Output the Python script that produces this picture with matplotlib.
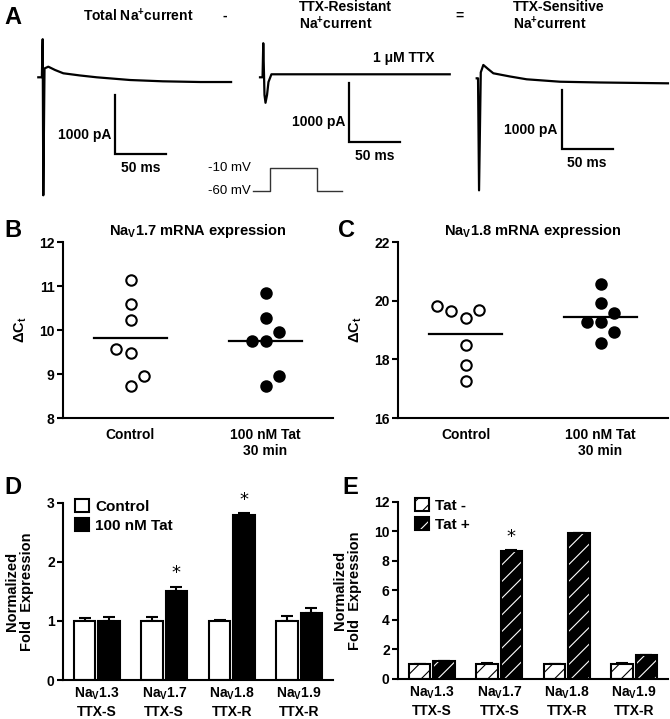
import numpy as np
import matplotlib
matplotlib.use("Agg")
import matplotlib.pyplot as plt
from matplotlib.patches import Patch
from matplotlib.legend_handler import HandlerTuple

plt.rcParams['font.family'] = ['Liberation Sans', 'DejaVu Sans']
plt.rcParams['font.weight'] = 'bold'
plt.rcParams['axes.labelweight'] = 'bold'
plt.rcParams['axes.titleweight'] = 'bold'
plt.rcParams['mathtext.fontset'] = 'custom'
plt.rcParams['mathtext.rm'] = 'Liberation Sans:bold'
plt.rcParams['mathtext.it'] = 'Liberation Sans:bold:italic'
plt.rcParams['mathtext.bf'] = 'Liberation Sans:bold'
plt.rcParams['axes.linewidth'] = 1.5
plt.rcParams['hatch.linewidth'] = 0.8

# ---- panel A: current traces (ms, pA relative to holding baseline)
total_t = [0, 3.5, 4.3, 4.9, 6.1, 9.8, 16.4, 24.5, 40.9, 57.3, 90, 122, 159, 189]
total_i = [0, 0, 646, -2000, 150, 180, 124, 68, 31, 0, -46, -68, -80, -80]
resist_t = [0, 2.5, 3.2, 4.4, 5.4, 6.9, 8.3, 11.2, 186]
resist_i = [0, 0, 578, -299, -432, -299, -80, 51, 51]
sens_t = [0, 1.3, 2.3, 4.0, 6.5, 11.1, 16.3, 32.6, 49, 81.7, 121, 187.5]
sens_i = [0, 0, -1899, 100, 226, 158, 85, 31, -17, -58, -71, -85]
# voltage protocol
protocol_t = [0, 17, 63, 87]
protocol_mv = [-60, -10, -60, -60]

# ---- panels B, C: delta Ct values
b_control = [11.14, 10.58, 10.23, 9.57, 9.47, 8.95, 8.73]
b_tat = [10.83, 10.27, 9.96, 9.76, 9.76, 8.95, 8.73]
c_control = [19.82, 19.66, 19.42, 19.68, 18.48, 17.82, 17.25]
c_tat = [20.56, 19.93, 19.57, 19.26, 19.26, 18.94, 18.56]
groups = ['Control', '100 nM Tat\n30 min']

# ---- panels D, E: normalized fold expression
channels = ['Na$_{\\mathrm{V}}$1.3\nTTX-S', 'Na$_{\\mathrm{V}}$1.7\nTTX-S',
            'Na$_{\\mathrm{V}}$1.8\nTTX-R', 'Na$_{\\mathrm{V}}$1.9\nTTX-R']
d_control = [1.0, 1.0, 1.0, 1.0]
d_control_err = [0.05, 0.06, 0.02, 0.08]
d_tat = [1.0, 1.5, 2.8, 1.14]
d_tat_err = [0.06, 0.08, 0.02, 0.08]
d_sig = [False, True, True, False]
e_minus = [1.0, 1.0, 1.0, 1.0]
e_minus_err = [0.03, 0.05, 0.03, 0.08]
e_plus = [1.2, 8.65, 9.85, 1.6]
e_plus_err = [0.05, 0.05, 0.05, 0.05]
e_sig = [False, True, False, False]

W, H = 670, 719
fig = plt.figure(figsize=(W / 100, H / 100), dpi=100)


def place_axes(left, top, right, bottom):
    return fig.add_axes([left / W, 1 - bottom / H, (right - left) / W, (bottom - top) / H])


def ftext(x, y, s, **kw):
    fig.text(x / W, 1 - y / H, s, **kw)


# ---------------- panel A
PX_MS = 1.02    # pixels per ms
PX_PA = 0.059   # pixels per pA


def trace_axes(box, origin):
    left, top, right, bottom = box
    ox, oy = origin
    ax = place_axes(left, top, right, bottom)
    ax.set_xlim((left - ox) / PX_MS, (right - ox) / PX_MS)
    ax.set_ylim((oy - bottom) / PX_PA, (oy - top) / PX_PA)
    ax.axis('off')
    return ax


def scale_bar(ax, t0, i0):
    ax.plot([t0, t0, t0 + 50], [i0 + 1000, i0, i0], color='black', lw=1.6,
            solid_joinstyle='miter', clip_on=False)
    ax.text(t0 - 4, i0 + 330, '1000 pA', ha='right', va='center', fontsize=10)
    ax.text(t0 + 25, i0 - 240, '50 ms', ha='center', va='center', fontsize=10)


traces = [(total_t, total_i, (30, 30, 240, 210), (38.3, 77.3), (75.2, -1300)),
          (resist_t, resist_i, (250, 30, 460, 210), (260, 77.3), (87.3, -1091)),
          (sens_t, sens_i, (465, 30, 670, 210), (476.7, 78.3), (83.3, -1203))]
trace_ax = []
for tt, ii, box, origin, bar in traces:
    ax = trace_axes(box, origin)
    ax.plot(tt, ii, color='black', lw=1.6, clip_on=False)
    scale_bar(ax, *bar)
    trace_ax.append(ax)
trace_ax[1].text(110.8, 322, '1 \u03bcM TTX', ha='left', va='center', fontsize=10)

axP = place_axes(240, 160, 350, 200)
axP.set_xlim((240 - 253) / PX_MS, (350 - 253) / PX_MS)
axP.set_ylim(-60 - (200 - 190.7) / 0.454, -60 + (190.7 - 160) / 0.454)
axP.axis('off')
axP.plot(protocol_t, protocol_mv, drawstyle='steps-post', color='#333333', lw=1.0)
for v in (-10, -60):
    axP.text(-2, v, '%d mV' % v, ha='right', va='center', fontsize=9.5,
             fontweight='normal')

ftext(4, 18, 'A', fontsize=17, va='center')
ftext(83, 16, 'Total Na$^{+}$current', fontsize=10, va='center')
ftext(225, 16, '-', fontsize=10, va='center', ha='center')
ftext(299, 7, 'TTX-Resistant', fontsize=10, va='center')
ftext(299, 24, 'Na$^{+}$current', fontsize=10, va='center')
ftext(459, 16, '=', fontsize=10, va='center', ha='center')
ftext(513, 7, 'TTX-Sensitive', fontsize=10, va='center')
ftext(513, 24, 'Na$^{+}$current', fontsize=10, va='center')

# ---------------- panels B, C
b_dx = ([0, 0, 0, -0.11, 0, 0.1, 0], [0, 0, 0.1, -0.1, 0, 0.1, 0])
c_dx = ([-0.21, -0.11, 0, 0.1, 0, 0, 0], [0, 0, 0.1, -0.1, 0, 0.1, 0])


def dot_panel(box, ctrl, tat, dxs, ylim, yticks, title):
    ax = place_axes(*box)
    for k, (vals, face) in enumerate([(ctrl, 'white'), (tat, 'black')]):
        ax.plot(k + np.array(dxs[k]), vals, 'o', mfc=face, mec='black', mew=1.5,
                ms=7.5, clip_on=False, zorder=3)
        m = np.mean(vals)
        ax.plot([k - 0.27, k + 0.27], [m, m], color='black', lw=1.6, zorder=2)
    ax.set_xlim(-0.5, 1.5)
    ax.set_ylim(*ylim)
    ax.set_yticks(yticks)
    ax.set_xticks([0, 1])
    ax.set_xticklabels(groups)
    ax.spines['top'].set_visible(False)
    ax.spines['right'].set_visible(False)
    ax.tick_params(axis='y', direction='out', length=4, width=1.5, labelsize=10, pad=2)
    ax.tick_params(axis='x', length=0, labelsize=10, pad=7)
    ax.set_ylabel('\u0394C$_{\\mathrm{t}}$', fontsize=10.5, labelpad=7)
    ax.set_title(title, fontsize=10.5, pad=5)
    return ax


dot_panel((63, 242, 333, 418), b_control, b_tat, b_dx, (8, 12), range(8, 13),
          'Na$_{\\mathrm{V}}$1.7 mRNA expression')
dot_panel((398, 242, 668, 418), c_control, c_tat, c_dx, (16, 22), range(16, 23, 2),
          'Na$_{\\mathrm{V}}$1.8 mRNA expression')
ftext(4, 231, 'B', fontsize=17, va='center')
ftext(338, 231, 'C', fontsize=17, va='center')

# ---------------- panels D, E
x = np.arange(len(channels))
off, bw = 0.18, 0.32


def bar_axes(box, ylim, yticks):
    ax = place_axes(*box)
    ax.set_xlim(-0.5, 3.5)
    ax.set_ylim(*ylim)
    ax.set_yticks(yticks)
    ax.set_xticks(x)
    ax.set_xticklabels(channels, linespacing=1.25)
    ax.spines['top'].set_visible(False)
    ax.spines['right'].set_visible(False)
    ax.tick_params(axis='y', direction='out', length=4, width=1.5, labelsize=10, pad=2)
    ax.tick_params(axis='x', length=0, labelsize=10, pad=4)
    ax.set_ylabel('Normalized\nFold  Expression', fontsize=10.5, labelpad=9,
                  linespacing=1.1)
    return ax


def err(ax, xs, vals, errs):
    ax.errorbar(xs, vals, yerr=[np.zeros(len(errs)), errs], fmt='none',
                ecolor='black', elinewidth=1.5, capsize=4, capthick=1.5, zorder=1)


axD = bar_axes((63, 502.7, 333, 680), (0, 3), [0, 1, 2, 3])
axD.bar(x - off, d_control, bw, color='white', edgecolor='black', lw=1.5, zorder=2)
axD.bar(x + off, d_tat, bw, color='black', edgecolor='black', lw=1.5, zorder=2)
err(axD, x - off, d_control, d_control_err)
err(axD, x + off, d_tat, d_tat_err)
for xi, v, e, s in zip(x, d_tat, d_tat_err, d_sig):
    if s:
        axD.text(xi + off, v + e + 0.08, '*', ha='center', va='bottom',
                 fontsize=13, fontweight='normal', family='DejaVu Sans')
hD = [Patch(facecolor='white', edgecolor='black', lw=1.5),
      Patch(facecolor='black', edgecolor='black', lw=1.5)]
axD.legend(hD, ['Control', '100 nM Tat'], loc='upper left',
           bbox_to_anchor=(0.045, 1.02), frameon=False, fontsize=11,
           handlelength=0.9, handleheight=0.9, handletextpad=0.4,
           labelspacing=0.3, borderpad=0, borderaxespad=0)

axE = bar_axes((398, 501.7, 668, 679), (0, 12), range(0, 13, 2))
axE.bar(x - off, e_minus, bw, color='white', edgecolor='black', hatch='//', lw=0, zorder=2)
axE.bar(x - off, e_minus, bw, fill=False, edgecolor='black', lw=1.5, zorder=2)
axE.bar(x + off, e_plus, bw, color='black', edgecolor='white', hatch='//', lw=0, zorder=2)
axE.bar(x + off, e_plus, bw, fill=False, edgecolor='black', lw=1.5, zorder=2)
err(axE, x - off, e_minus, e_minus_err)
err(axE, x + off, e_plus, e_plus_err)
for xi, v, e, s in zip(x, e_plus, e_plus_err, e_sig):
    if s:
        axE.text(xi + off, v + e + 0.3, '*', ha='center', va='bottom',
                 fontsize=13, fontweight='normal', family='DejaVu Sans')
hE = [(Patch(facecolor='white', edgecolor='black', hatch='//', lw=0),
       Patch(fill=False, edgecolor='black', lw=1.5)),
      (Patch(facecolor='black', edgecolor='white', hatch='//', lw=0),
       Patch(fill=False, edgecolor='black', lw=1.5))]
axE.legend(hE, ['Tat -', 'Tat +'], loc='upper left',
           bbox_to_anchor=(0.063, 1.02), frameon=False, fontsize=11,
           handlelength=0.9, handleheight=0.9, handletextpad=0.4,
           labelspacing=0.3, borderpad=0, borderaxespad=0,
           handler_map={tuple: HandlerTuple(ndivide=1, pad=0)})

ftext(4, 488, 'D', fontsize=17, va='center')
ftext(342, 488, 'E', fontsize=17, va='center')

fig.savefig('out.png', dpi=100)
